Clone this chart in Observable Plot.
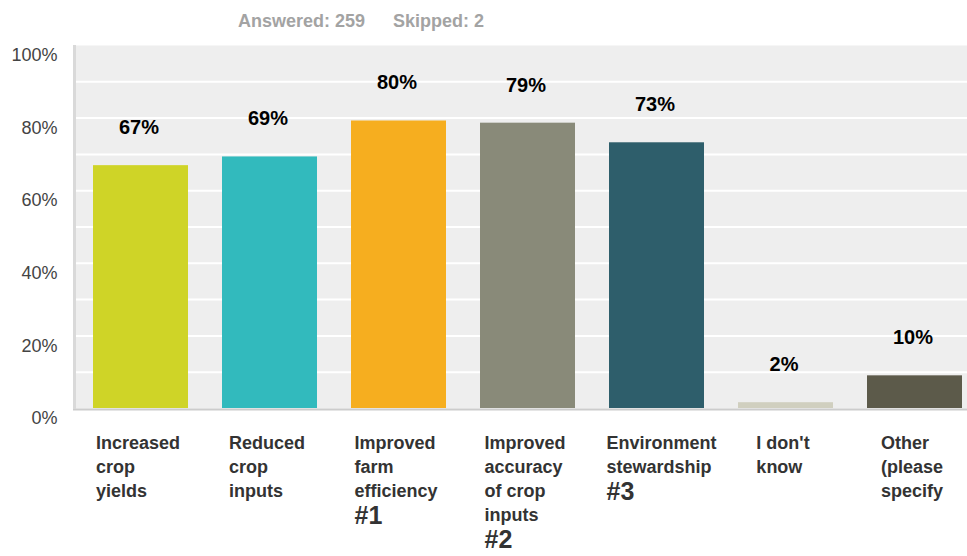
<!DOCTYPE html>
<html><head><meta charset="utf-8">
<script src="https://cdn.jsdelivr.net/npm/d3@7"></script>
<script src="https://cdn.jsdelivr.net/npm/@observablehq/plot@0.6"></script>
<style>
body{margin:0;background:#fff;font-family:"Liberation Sans",Arial,sans-serif;}
#sub{height:40px;line-height:43px;padding-left:238px;font-size:18px;font-weight:bold;color:#a3a3a3;white-space:nowrap;}
#sub span + span{margin-left:28px;}
#chart svg{display:block;}
</style></head><body>
<div id="sub"></div>
<div id="chart"></div>
<script>
// ---- data ----
const categories = ["Increased crop yields", "Reduced crop inputs", "Improved farm efficiency", "Improved accuracy of crop inputs", "Environment stewardship", "I don't know", "Other (please specify"];
const wrappedLabels = ["Increased\ncrop\nyields", "Reduced\ncrop\ninputs", "Improved\nfarm\nefficiency", "Improved\naccuracy\nof crop\ninputs", "Environment\nstewardship", "I don't\nknow", "Other\n(please\nspecify"];
const ranks = ["", "", "#1", "#2", "#3", "", ""];
const values = [66.9, 69.3, 79.2, 78.6, 73.2, 1.6, 9.0];
const valueLabels = ["67%", "69%", "80%", "79%", "73%", "2%", "10%"];
const colors = ["#cfd427", "#32babd", "#f6ae1f", "#898a79", "#2e5e6b", "#d0cfbf", "#5c5a4a"];
const yTicks = [0, 20, 40, 60, 80, 100];
const gridTicks = [10, 20, 30, 40, 50, 60, 70, 80, 90];
const answered = 259, skipped = 2;

// ---- subtitle ----
const sub = document.getElementById("sub");
sub.innerHTML = "";
[`Answered: ${answered}`, `Skipped: ${skipped}`].forEach(t => {
  const s = document.createElement("span"); s.textContent = t; sub.appendChild(s);
});

const data = categories.map((c, i) => ({
  category: c,
  value: values[i],
  label: valueLabels[i],
  axisLabel: wrappedLabels[i] + (ranks[i] ? "\n" + ranks[i] : "")
}));

const leftLine = (index, scales, vals, dims) => {
  const g = d3.create("svg:g");
  g.append("line")
    .attr("x1", dims.marginLeft + 1.5).attr("x2", dims.marginLeft + 1.5)
    .attr("y1", dims.marginTop).attr("y2", dims.height - dims.marginBottom + 1)
    .attr("stroke", "#d9d9d9").attr("stroke-width", 3);
  return g.node();
};

const plot = Plot.plot({
  width: 967,
  height: 516,
  marginTop: 5,
  marginLeft: 73,
  marginRight: 0,
  marginBottom: 148,
  style: {fontFamily: "'Liberation Sans', Arial, sans-serif", background: "transparent", overflow: "visible"},
  x: {domain: categories, range: [73, 982], paddingInner: 0.2655, paddingOuter: 0.147, axis: null},
  y: {domain: [0, 100], axis: null},
  color: {domain: categories, range: colors},
  marks: [
    Plot.frame({fill: "#eeeeee", stroke: null}),
    Plot.ruleY(gridTicks, {stroke: "#ffffff", strokeWidth: 2}),
    Plot.barY(data, {x: "category", y: "value", fill: "category"}),
    Plot.ruleY([0], {stroke: "#cccccc", strokeWidth: 2, dy: 1}),
    leftLine,
    Plot.axisY(yTicks, {label: null, tickSize: 0, tickPadding: 16, dy: 10, fontSize: 18, fill: "#444444", tickFormat: d => d + "%"}),
    Plot.text(data, {x: "category", y: "value", text: "label", dy: -38, dx: -2, fontSize: 20, fontWeight: "bold", fill: "#000000"}),
    Plot.text(data, {x: "category", text: "axisLabel", frameAnchor: "bottom", textAnchor: "start", lineAnchor: "top", dy: 23, lineHeight: 1.34, fontSize: 18, fontWeight: "bold", fill: "#333333", className: "xlab"})
  ]
});

document.getElementById("chart").appendChild(plot);

// place each category label as a left-aligned block centred under its bar
const bw = plot.scale("x").bandwidth;
d3.select(plot).selectAll(".xlab text").each(function() {
  this.querySelectorAll("tspan").forEach(t => {
    if (t.textContent.startsWith("#")) {
      t.setAttribute("font-size", "25");
      t.setAttribute("dy", "1.1em");
    }
  });
  const w = this.getBBox().width;
  const shift = -Math.min(w, bw) / 2 - 3;
  const tr = this.getAttribute("transform") || "";
  this.setAttribute("transform", tr + ` translate(${shift},0)`);
});
</script>
</body></html>
